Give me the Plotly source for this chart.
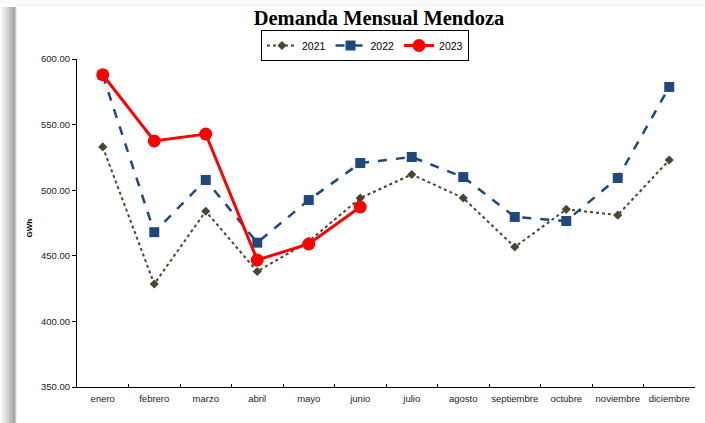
import plotly.graph_objects as go

months = ["enero", "febrero", "marzo", "abril", "mayo", "junio", "julio",
          "agosto", "septiembre", "octubre", "noviembre", "diciembre"]
y2021 = [533, 428.5, 484, 438, 461, 494, 512, 494, 456.7, 485.4, 481, 523]
y2022 = [587.8, 468, 507.8, 460, 492.5, 520.7, 525.3, 510, 479.6, 476.5, 509.3, 578.7]
y2023 = [588, 537.5, 542.8, 446.8, 459, 487.2]
yticks = [350, 400, 450, 500, 550, 600]

W, H = 705, 423
ML, MR, MT, MB = 77, 10, 59, 36
PW, PH = W - ML - MR, H - MT - MB

def px(p):
    return (p - ML) / PW

def py(q):
    return (H - MB - q) / PH

fig = go.Figure()
fig.add_trace(go.Scatter(
    x=months, y=y2021, name="2021", mode="lines+markers",
    line=dict(color="#4a4430", width=2, dash="dot"),
    marker=dict(symbol="diamond", size=7, color="#4a4430")))
fig.add_trace(go.Scatter(
    x=months, y=y2022, name="2022", mode="lines+markers",
    line=dict(color="#1f497d", width=2.5, dash="dash"),
    marker=dict(symbol="square", size=10, color="#1f497d")))
fig.add_trace(go.Scatter(
    x=months[:len(y2023)], y=y2023, name="2023", mode="lines+markers",
    line=dict(color="#ff0000", width=3),
    marker=dict(symbol="circle", size=13, color="#ff0000")))

shapes = []
# left shadow strips (smooth gradient)
shades = ["#fbfbfb", "#f6f6f6", "#f1f1f1", "#ececec", "#e6e6e6", "#e0e0e0",
          "#dadada", "#d3d3d3", "#cccccc", "#c5c5c5", "#bebebe", "#b7b7b7",
          "#b0b0b0", "#a9a9a9", "#a8a8a8", "#c8c8c8", "#eeeeee"]
x0 = 0
sw = 1
for c in shades:
    shapes.append(dict(type="rect", xref="paper", yref="paper",
                       x0=px(x0), x1=px(x0 + sw), y0=py(H), y1=py(7),
                       fillcolor=c, line=dict(width=0), layer="below"))
    x0 += sw
# top faint strip
shapes.append(dict(type="rect", xref="paper", yref="paper",
                   x0=px(0), x1=px(W), y0=py(5), y1=py(0),
                   fillcolor="#fafafa", line=dict(width=0), layer="below"))
shapes.append(dict(type="line", xref="paper", yref="paper",
                   x0=px(17), x1=px(W), y0=py(5), y1=py(5),
                   line=dict(color="#ececec", width=1), layer="below"))

fig.update_layout(
    width=W, height=H,
    margin=dict(l=ML, r=MR, t=MT, b=MB, autoexpand=False),
    paper_bgcolor="white", plot_bgcolor="white",
    title=dict(text="<b>Demanda Mensual Mendoza</b>", x=(379) / W, xanchor="center",
               y=1 - 18 / H, yanchor="middle",
               font=dict(family="Liberation Serif", size=20.5, color="black")),
    legend=dict(orientation="h", x=px(365), xanchor="center", y=py(45.5), yanchor="middle",
                bordercolor="black", borderwidth=1, bgcolor="white",
                font=dict(family="Liberation Sans", size=10.5, color="black"),
                itemwidth=30, tracegroupgap=0),
    showlegend=True,
    shapes=shapes,
    xaxis=dict(type="category", categoryorder="array", categoryarray=months,
               range=[-0.5, 11.5], showline=True, linecolor="black", linewidth=1,
               ticks="inside", ticklen=3, tickcolor="black", tickson="boundaries",
               tickangle=0, automargin=False, ticklabelstandoff=3,
               showgrid=False, zeroline=False,
               tickfont=dict(family="Liberation Sans", size=9.5, color="#222")),
    yaxis=dict(range=[350, 600], tickvals=yticks, tickformat=".2f",
               showline=True, linecolor="black", linewidth=1,
               ticks="outside", ticklen=4, tickcolor="black", automargin=False,
               showgrid=False, zeroline=False,
               tickfont=dict(family="Liberation Sans", size=9.5, color="#222")),
    annotations=[dict(text="<b>GWh</b>", textangle=-90, xref="paper", yref="paper",
                      x=px(22), y=py(228), showarrow=False,
                      font=dict(family="Liberation Sans", size=8, color="black"))],
)

fig.write_html("out.html", config={"displayModeBar": False},
               post_script="document.body.style.margin='0';document.body.style.overflow='hidden';")
